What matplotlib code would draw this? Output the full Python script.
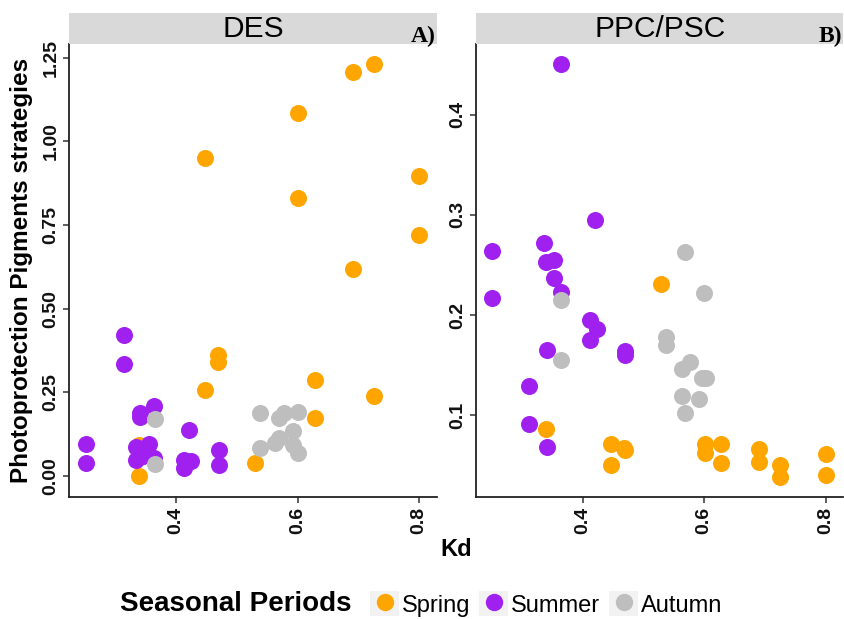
import matplotlib
matplotlib.use("Agg")
import matplotlib.pyplot as plt
from matplotlib.lines import Line2D
from matplotlib.patches import Rectangle
from matplotlib.legend_handler import HandlerTuple

plt.rcParams['font.family'] = ['Liberation Sans', 'DejaVu Sans']

# Colours (R names: orange, purple, grey)
SEASON_COLORS = {'Spring': '#FFA500', 'Summer': '#A020F0', 'Autumn': '#BEBEBE'}
SEASONS = ['Spring', 'Summer', 'Autumn']

# Panel A) DES
des_spring_kd = [0.691, 0.726, 0.601, 0.447, 0.800, 0.601, 0.800, 0.691, 0.469,
                 0.469, 0.447, 0.629, 0.726, 0.629, 0.530, 0.339, 0.339]
des_spring_val = [1.207, 1.230, 1.085, 0.950, 0.896, 0.830, 0.720, 0.618, 0.361,
                  0.341, 0.258, 0.288, 0.239, 0.174, 0.040, 0.000, 0.093]
des_summer_kd = [0.314, 0.314, 0.252, 0.252, 0.341, 0.341, 0.364, 0.355, 0.335,
                 0.335, 0.364, 0.345, 0.421, 0.413, 0.424, 0.413, 0.471, 0.471]
des_summer_val = [0.422, 0.334, 0.096, 0.040, 0.189, 0.177, 0.209, 0.095, 0.088,
                  0.048, 0.053, 0.060, 0.137, 0.048, 0.046, 0.023, 0.078, 0.033]
des_autumn_kd = [0.365, 0.365, 0.538, 0.538, 0.569, 0.578, 0.600, 0.592, 0.569,
                 0.563, 0.592, 0.600]
des_autumn_val = [0.169, 0.036, 0.187, 0.083, 0.174, 0.187, 0.190, 0.134, 0.113,
                  0.098, 0.093, 0.070]

# Panel B) PPC/PSC
ppc_spring_kd = [0.529, 0.340, 0.447, 0.447, 0.468, 0.470, 0.601, 0.601, 0.628,
                 0.628, 0.690, 0.690, 0.725, 0.725, 0.801, 0.801]
ppc_spring_val = [0.231, 0.086, 0.072, 0.051, 0.068, 0.066, 0.072, 0.063, 0.072,
                  0.053, 0.067, 0.054, 0.051, 0.039, 0.062, 0.041]
ppc_summer_kd = [0.364, 0.420, 0.251, 0.337, 0.251, 0.340, 0.353, 0.353, 0.365,
                 0.412, 0.423, 0.412, 0.341, 0.470, 0.470, 0.312, 0.312, 0.341]
ppc_summer_val = [0.450, 0.295, 0.264, 0.272, 0.217, 0.253, 0.255, 0.237, 0.223,
                  0.195, 0.186, 0.175, 0.165, 0.164, 0.160, 0.129, 0.091, 0.069]
ppc_autumn_kd = [0.568, 0.365, 0.364, 0.600, 0.537, 0.537, 0.576, 0.563, 0.596,
                 0.603, 0.563, 0.592, 0.569]
ppc_autumn_val = [0.263, 0.215, 0.155, 0.222, 0.178, 0.170, 0.153, 0.146, 0.137,
                  0.137, 0.119, 0.116, 0.102]

des_yticks = [0.00, 0.25, 0.50, 0.75, 1.00, 1.25]
ppc_yticks = [0.1, 0.2, 0.3, 0.4]
kd_ticks = [0.4, 0.6, 0.8]

panels = [
    ('DES', 'A)', {'Spring': (des_spring_kd, des_spring_val),
                   'Summer': (des_summer_kd, des_summer_val),
                   'Autumn': (des_autumn_kd, des_autumn_val)},
     des_yticks, '%.2f', (-0.062, 1.290)),
    ('PPC/PSC', 'B)', {'Spring': (ppc_spring_kd, ppc_spring_val),
                       'Summer': (ppc_summer_kd, ppc_summer_val),
                       'Autumn': (ppc_autumn_kd, ppc_autumn_val)},
     ppc_yticks, '%.1f', (0.019, 0.470)),
]

W, H = 845, 619
fig = plt.figure(figsize=(W / 100, H / 100), dpi=100)

# pixel boxes of the two panels (left, right)
panel_x = [(69.3, 436.7), (476.0, 843.3)]
ax_top, ax_bot = 44.3, 496.7
strip_top = 13.3

for (x0, x1), (name, tag, data, yticks, fmt, ylim) in zip(panel_x, panels):
    ax = fig.add_axes([x0 / W, 1 - ax_bot / H, (x1 - x0) / W, (ax_bot - ax_top) / H])
    for season in SEASONS:
        kd, val = data[season]
        ax.scatter(kd, val, s=150, color=SEASON_COLORS[season], linewidths=0, zorder=3)

    ax.set_xlim(0.2245, 0.8290)
    ax.set_ylim(*ylim)
    ax.set_xticks(kd_ticks)
    ax.set_xticklabels(['%.1f' % t for t in kd_ticks], rotation=90,
                       fontsize=14, fontweight='bold', color='#111111')
    ax.set_yticks(yticks)
    ax.set_yticklabels([fmt % t for t in yticks], rotation=90, va='center',
                       fontsize=14, fontweight='bold', color='#111111')
    ax.tick_params(length=4, width=1.1, color='#333333', pad=3)
    for side in ['top', 'right']:
        ax.spines[side].set_visible(False)
    for side in ['left', 'bottom']:
        ax.spines[side].set_color('#222222')
        ax.spines[side].set_linewidth(1.3)

    # facet strip
    sax = fig.add_axes([x0 / W, 1 - ax_top / H, (x1 - x0) / W, (ax_top - strip_top) / H])
    sax.set_facecolor('#D9D9D9')
    sax.set_xticks([])
    sax.set_yticks([])
    for sp in sax.spines.values():
        sp.set_visible(False)
    sax.text(0.5, 0.5, name, ha='center', va='center', fontsize=21.5,
             transform=sax.transAxes)
    sax.text(0.997, 0.06, tag, ha='right', va='baseline', fontsize=17,
             fontweight='bold', family='Liberation Serif', transform=sax.transAxes)

# axis titles
fig.text(22 / W, 1 - 270 / H, 'Photoprotection Pigments strategies', rotation=90,
         ha='center', va='center', fontsize=17.5, fontweight='bold')
fig.text(456 / W, 1 - 549 / H, 'Kd', ha='center', va='center',
         fontsize=17, fontweight='bold')

# legend at the bottom: title on the left, keys with grey background
fig.text(120 / W, 1 - 604 / H, 'Seasonal Periods', ha='left', va='center',
         fontsize=20, fontweight='bold')
handles = []
for season in SEASONS:
    bg = Rectangle((0, 0), 1, 1, facecolor='#F2F2F2', edgecolor='none')
    dot = Line2D([], [], marker='o', linestyle='none', markersize=12.5,
                 markerfacecolor=SEASON_COLORS[season], markeredgewidth=0)
    handles.append((bg, dot))
fig.legend(handles, SEASONS, handler_map={tuple: HandlerTuple(ndivide=1)},
           loc='center left', bbox_to_anchor=(370 / W, 1 - 604 / H), ncol=3,
           frameon=False, fontsize=17, handlelength=1.23, handleheight=1.23,
           handletextpad=0.1, columnspacing=0.4, borderpad=0, borderaxespad=0)

fig.savefig('out.png', dpi=100)
